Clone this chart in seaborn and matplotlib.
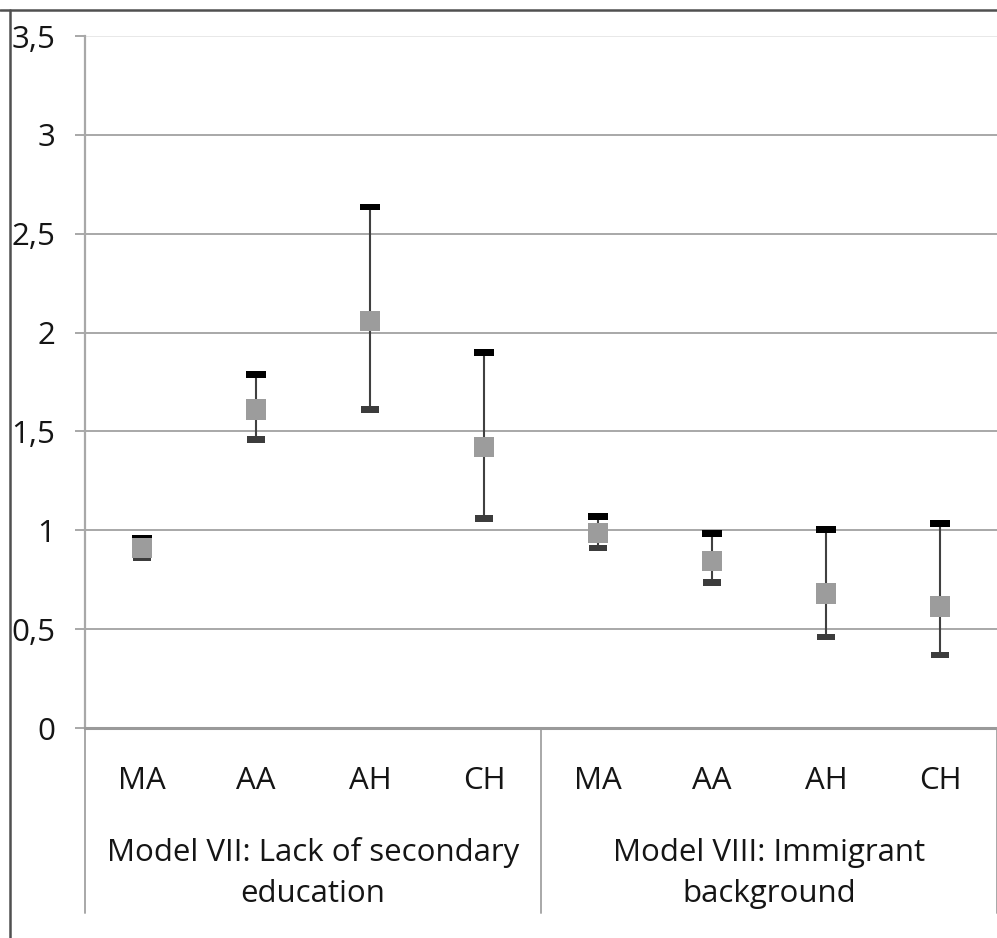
import matplotlib
matplotlib.use("Agg")
import matplotlib.pyplot as plt
import seaborn as sns
import pandas as pd
from matplotlib.lines import Line2D

# ---- data ----
categories = ["MA", "AA", "AH", "CH", "MA", "AA", "AH", "CH"]
group_labels = ["Model VII: Lack of secondary\neducation", "Model VIII: Immigrant\nbackground"]
high = [0.96, 1.79, 2.635, 1.90, 1.07, 0.985, 1.005, 1.035]
low = [0.86, 1.46, 1.61, 1.06, 0.91, 0.735, 0.46, 0.37]
close = [0.91, 1.61, 2.06, 1.42, 0.985, 0.845, 0.68, 0.615]
y_ticks = [0, 0.5, 1, 1.5, 2, 2.5, 3, 3.5]
y_ticklabels = ["0", "0,5", "1", "1,5", "2", "2,5", "3", "3,5"]

pos = list(range(len(categories)))
df = pd.DataFrame({"pos": pos, "cat": categories, "high": high, "low": low, "close": close})

sns.set_theme(style="white")
plt.rcParams["font.family"] = ["Open Sans", "DejaVu Sans"]
FS = 22.5
TXT = "#151515"

W, H = 997, 938
fig = plt.figure(figsize=(W / 100, H / 100), dpi=100)
ax = fig.add_axes([85 / W, 1 - 728 / H, (997 - 85) / W, (728 - 36) / H])

# gridlines
for yv in y_ticks[1:]:
    ax.axhline(yv, color="#a8a8a8" if yv < 3.5 else "#e8e8e8", lw=1.4, zorder=1)

# high-low lines
ax.vlines(df["pos"], df["low"], df["high"], color="#404040", lw=1.5, zorder=2)

# high / low dashes
rect = [(-1, -0.36), (1, -0.36), (1, 0.36), (-1, 0.36), (-1, -0.36)]
sns.scatterplot(data=df, x="pos", y="high", marker=rect, s=190, color="#000000",
                edgecolor="none", linewidth=0, ax=ax, zorder=3, legend=False)
sns.scatterplot(data=df, x="pos", y="low", marker=rect, s=170, color="#3c3c3c",
                edgecolor="none", linewidth=0, ax=ax, zorder=3, legend=False)
# close squares
sns.scatterplot(data=df, x="pos", y="close", marker="s", s=215, color="#9c9c9c",
                edgecolor="none", linewidth=0, ax=ax, zorder=4, legend=False)

ax.set_xlim(-0.5, len(categories) - 0.5)
ax.set_ylim(0, 3.5)
ax.set_xlabel("")
ax.set_ylabel("")

ax.set_yticks(y_ticks)
ax.set_yticklabels(y_ticklabels, fontsize=FS, color=TXT)
ax.tick_params(axis="y", left=True, length=7.2, width=1.4, color="#a8a8a8", pad=14)

ax.set_xticks(pos)
ax.set_xticklabels(categories, fontsize=FS, color=TXT)
ax.tick_params(axis="x", bottom=False, length=0, pad=27)

for s in ["top", "right"]:
    ax.spines[s].set_visible(False)
ax.spines["left"].set_color("#a8a8a8")
ax.spines["left"].set_linewidth(1.6)
ax.spines["bottom"].set_color("#9a9a9a")
ax.spines["bottom"].set_linewidth(2.2)

# group separators and labels
tr = ax.get_xaxis_transform()
for xv in [-0.5, 3.5, 7.5]:
    ax.plot([xv, xv], [0, -0.267], transform=tr, color="#a8a8a8", lw=1.4, clip_on=False)
for i, g in enumerate(group_labels):
    ax.text(i * 4 + 1.5, -0.21, g, transform=tr, ha="center", va="center",
            fontsize=FS, linespacing=1.48, color=TXT)

# outer frame (top and left edges)
fig.add_artist(Line2D([0, 1], [1 - 10 / H, 1 - 10 / H], transform=fig.transFigure,
                      color="#505050", lw=1.8))
fig.add_artist(Line2D([9.5 / W, 9.5 / W], [0, 1 - 10 / H], transform=fig.transFigure,
                      color="#505050", lw=1.8))

fig.savefig("out.png", dpi=100)
